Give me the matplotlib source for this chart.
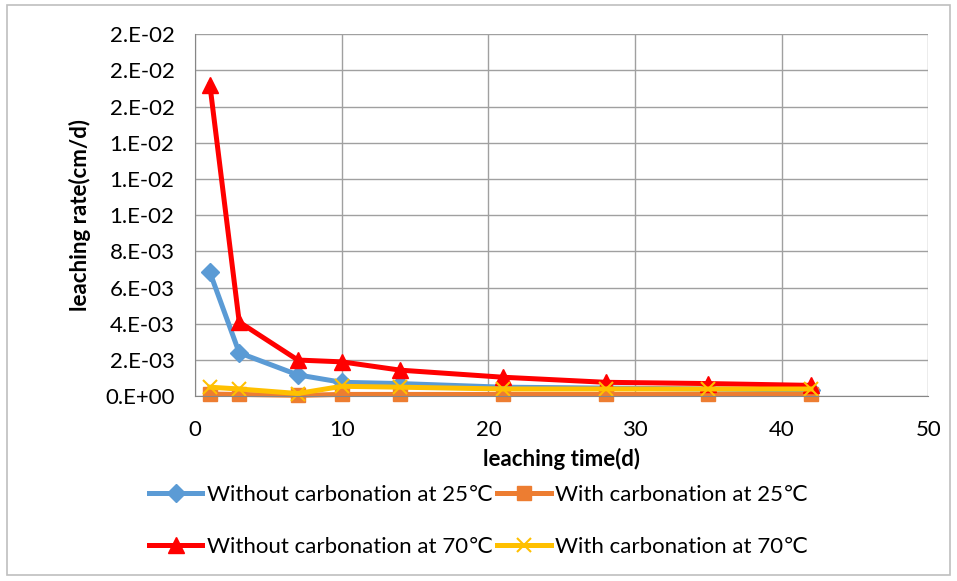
import numpy as np
import matplotlib
matplotlib.use("Agg")
import matplotlib.pyplot as plt

plt.rcParams['font.family'] = ['Lato', 'DejaVu Sans']

days = [1, 3, 7, 10, 14, 21, 28, 35, 42]
no_carb_25 = [0.00685, 0.0024, 0.00118, 0.00077, 0.0007, 0.0005, 0.00045, 0.0004, 0.00035]
carb_25 = [0.00012, 0.0001, 0.00005, 0.0001, 0.0001, 0.0001, 0.0001, 0.0001, 0.0001]
no_carb_70 = [0.0172, 0.0041, 0.0020, 0.0019, 0.00144, 0.00105, 0.00077, 0.0007, 0.0006]
carb_70 = [0.0005, 0.0004, 0.00015, 0.00055, 0.0005, 0.0004, 0.0004, 0.0004, 0.0004]

ytick_vals = [0, 0.002, 0.004, 0.006, 0.008, 0.010, 0.012, 0.014, 0.016, 0.018, 0.020]
ytick_labels = ['0.E+00', '2.E-03', '4.E-03', '6.E-03', '8.E-03', '1.E-02',
                '1.E-02', '1.E-02', '2.E-02', '2.E-02', '2.E-02']
xticks = [0, 10, 20, 30, 40, 50]

fig = plt.figure(figsize=(9.57, 5.81), dpi=100)
ax = fig.add_axes([0.204, 0.318, 0.766, 0.623])

h1, = ax.plot(days, no_carb_25, color='#5b9bd5', lw=3.6, marker='D', ms=9,
              label='Without carbonation at 25\u2103', clip_on=False)
h2, = ax.plot(days, carb_25, color='#ed7d31', lw=3.6, marker='s', ms=10,
              label='With carbonation at 25\u2103', clip_on=False)
h3, = ax.plot(days, no_carb_70, color='#ff0000', lw=3.6, marker='^', ms=11,
              label='Without carbonation at 70\u2103', clip_on=False)
h4, = ax.plot(days, carb_70, color='#ffc000', lw=3.6, marker='x', ms=10, mew=1.5,
              label='With carbonation at 70\u2103', clip_on=False)

ax.set_xlim(0, 50)
ax.set_ylim(0, 0.020)
ax.set_xticks(xticks)
ax.set_yticks(ytick_vals)
ax.set_yticklabels(ytick_labels)
ax.tick_params(labelsize=16, length=0)
ax.tick_params(axis='y', pad=15)
ax.tick_params(axis='x', pad=17)
ax.grid(True, color='#a0a0a0', lw=1)
ax.set_axisbelow(True)
for s in ['top', 'right']:
    ax.spines[s].set_visible(False)
ax.spines['left'].set_color('#868686')
ax.spines['bottom'].set_color('#868686')

ax.set_xlabel('leaching time(d)', fontsize=16, fontweight='bold', labelpad=6)
ax.set_ylabel('leaching rate(cm/d)', fontsize=16, fontweight='bold', labelpad=10)

# row-wise order: 25C pair on the first row, 70C pair on the second
fig.legend([h1, h3, h2, h4], [h.get_label() for h in (h1, h3, h2, h4)],
           loc='center', bbox_to_anchor=(0.5, 0.103),
           ncol=2, frameon=False, fontsize=16, handlelength=2.4,
           handletextpad=0.2, columnspacing=0.2, labelspacing=1.45)

fig.patches.append(plt.Rectangle((0.007, 0.01), 0.986, 0.981, transform=fig.transFigure,
                                 fill=False, edgecolor='#bfbfbf', lw=1.2))

fig.savefig('out.png', dpi=100)
